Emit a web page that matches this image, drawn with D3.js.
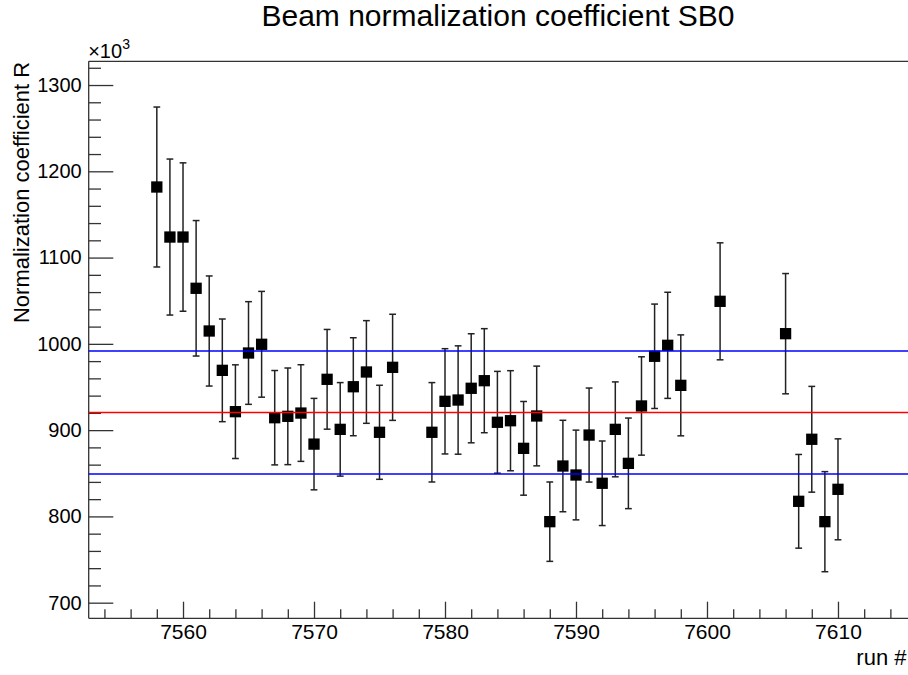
<!DOCTYPE html>
<html>
<head>
<meta charset="utf-8">
<script src="https://cdn.jsdelivr.net/npm/d3@7"></script>
<style>
  html, body { margin: 0; padding: 0; background: #ffffff; }
  svg { display: block; }
  text { font-family: "Liberation Sans", Arial, Helvetica, sans-serif; fill: #000; }
</style>
</head>
<body>
<div id="chart"></div>
<script>
// Run numbers
const runs = [7558, 7559, 7560, 7561, 7562, 7563, 7564, 7565, 7566, 7567,
              7568, 7569, 7570, 7571, 7572, 7573, 7574, 7575, 7576, 7579,
              7580, 7581, 7582, 7583, 7584, 7585, 7586, 7587, 7588, 7589,
              7590, 7591, 7592, 7593, 7594, 7595, 7596, 7597, 7598, 7601,
              7606, 7607, 7608, 7609, 7610];

// Normalization coefficient R (in units of 10^3)
const coeff = [1181.8, 1123.8, 1123.8, 1064.4, 1014.9, 969.3, 921.4, 989.4, 999.5, 914.4,
               916.0, 919.8, 883.8, 958.9, 900.9, 950.3, 967.4, 897.5, 972.8, 897.5,
               933.4, 934.9, 948.5, 957.3, 909.1, 910.9, 878.9, 916.4, 793.9, 858.4,
               848.0, 894.3, 838.4, 900.9, 861.5, 928.0, 985.6, 998.3, 951.9, 1049.3,
               1011.8, 817.5, 889.4, 793.9, 831.4];

// Symmetric errors on R (in units of 10^3)
const coeffErr = [92.7, 90.4, 86.0, 78.5, 63.8, 59.5, 54.3, 59.5, 61.3, 54.7,
                  56.0, 56.0, 53.0, 57.8, 54.2, 56.8, 59.5, 54.5, 61.5, 57.6,
                  61.0, 62.8, 63.2, 60.3, 59.0, 58.0, 54.3, 57.8, 46.0, 53.0,
                  52.0, 54.5, 49.0, 55.0, 52.5, 57.0, 60.5, 61.5, 58.5, 67.8,
                  69.7, 54.3, 61.3, 58.0, 58.5];

// Mean and +/- one sigma band
const meanValue = 920.4;
const sigmaValue = 71.3;

// Axis ticks
const xMajorTicks = [7560, 7570, 7580, 7590, 7600, 7610];
const xMinorTicks = [7554, 7556, 7558, 7562, 7564, 7566, 7568, 7572, 7574, 7576, 7578,
                     7582, 7584, 7586, 7588, 7592, 7594, 7596, 7598, 7602, 7604, 7606,
                     7608, 7612, 7614];
const yMajorTicks = [700, 800, 900, 1000, 1100, 1200, 1300];
const yMinorTicks = [720, 740, 760, 780, 820, 840, 860, 880, 920, 940, 960, 980,
                     1020, 1040, 1060, 1080, 1120, 1140, 1160, 1180, 1220, 1240,
                     1260, 1280, 1320];

const W = 908, H = 675;
const frame = { left: 88.7, right: 906.1, top: 61.3, bottom: 618.3 };

const svg = d3.select("#chart").append("svg")
  .attr("width", W).attr("height", H);

const x = d3.scaleLinear().domain([7552.8, 7615.2]).range([frame.left, frame.right]);
const y = d3.scaleLinear().domain([681.9, 1327.5]).range([frame.bottom, frame.top]);

const axisColor = "#333";

// Frame top edge
svg.append("line")
  .attr("x1", frame.left).attr("x2", W)
  .attr("y1", frame.top).attr("y2", frame.top)
  .attr("stroke", axisColor).attr("stroke-width", 1.3);

// X axis: major and minor ticks pointing into the frame
const gx = svg.append("g").attr("transform", `translate(0,${frame.bottom})`);
gx.call(d3.axisBottom(x).tickValues(xMinorTicks).tickFormat("")
  .tickSizeInner(-9).tickSizeOuter(0));
gx.call(g => g.select(".domain").remove());
const gxMaj = svg.append("g").attr("transform", `translate(0,${frame.bottom})`);
gxMaj.call(d3.axisBottom(x).tickValues(xMajorTicks).tickFormat(d3.format("d"))
  .tickSizeInner(-16.6).tickSizeOuter(0).tickPadding(6));
gxMaj.select(".domain").attr("d", `M${frame.left},0H${W}`);
[gx, gxMaj].forEach(g => {
  g.selectAll("line, path").attr("stroke", axisColor).attr("stroke-width", 1.3);
});
gxMaj.selectAll("text")
  .attr("font-size", 21).attr("fill", "#000")
  .style("font-family", "'Liberation Sans', Arial, Helvetica, sans-serif");

// Y axis: major and minor ticks pointing into the frame
const gy = svg.append("g").attr("transform", `translate(${frame.left},0)`);
gy.call(d3.axisLeft(y).tickValues(yMinorTicks).tickFormat("")
  .tickSizeInner(-12.3).tickSizeOuter(0));
gy.call(g => g.select(".domain").remove());
const gyMaj = svg.append("g").attr("transform", `translate(${frame.left},0)`);
gyMaj.call(d3.axisLeft(y).tickValues(yMajorTicks).tickFormat(d3.format("d"))
  .tickSizeInner(-24.6).tickSizeOuter(0).tickPadding(7));
gyMaj.select(".domain").attr("d", `M0,${frame.top}V${frame.bottom}`);
[gy, gyMaj].forEach(g => {
  g.selectAll("line, path").attr("stroke", axisColor).attr("stroke-width", 1.3);
});
gyMaj.selectAll("text")
  .attr("font-size", 20).attr("fill", "#000")
  .style("font-family", "'Liberation Sans', Arial, Helvetica, sans-serif");

// Exponent label on the y axis
const expo = svg.append("text")
  .attr("x", frame.left - 0.5).attr("y", 58.3)
  .style("font-size", "20px");
expo.append("tspan").text("\u00d710");
expo.append("tspan").style("font-size", "14px").attr("dy", -9.5).text("3");

// Title
svg.append("text")
  .attr("x", 498).attr("y", 26)
  .attr("text-anchor", "middle")
  .attr("font-size", 30)
  .text("Beam normalization coefficient SB0");

// Axis titles
svg.append("text")
  .attr("transform", `translate(29,${frame.top + 0.5}) rotate(-90)`)
  .attr("text-anchor", "end")
  .attr("font-size", 22)
  .text("Normalization coefficient R");

svg.append("text")
  .attr("x", 906.5).attr("y", 665)
  .attr("text-anchor", "end")
  .attr("font-size", 22)
  .text("run #");

// Data points with error bars
const points = runs.map((r, i) => ({ run: r, v: coeff[i], e: coeffErr[i] }));
const capHalf = 3.4;
const gPts = svg.append("g");

gPts.selectAll("line.err").data(points).join("line")
  .attr("class", "err")
  .attr("x1", d => x(d.run)).attr("x2", d => x(d.run))
  .attr("y1", d => y(d.v - d.e)).attr("y2", d => y(d.v + d.e))
  .attr("stroke", "#222").attr("stroke-width", 1.5);

gPts.selectAll("line.capHi").data(points).join("line")
  .attr("class", "capHi")
  .attr("x1", d => x(d.run) - capHalf).attr("x2", d => x(d.run) + capHalf)
  .attr("y1", d => y(d.v + d.e)).attr("y2", d => y(d.v + d.e))
  .attr("stroke", "#222").attr("stroke-width", 1.5);

gPts.selectAll("line.capLo").data(points).join("line")
  .attr("class", "capLo")
  .attr("x1", d => x(d.run) - capHalf).attr("x2", d => x(d.run) + capHalf)
  .attr("y1", d => y(d.v - d.e)).attr("y2", d => y(d.v - d.e))
  .attr("stroke", "#222").attr("stroke-width", 1.5);

const ms = 11.3;
gPts.selectAll("rect.marker").data(points).join("rect")
  .attr("class", "marker")
  .attr("x", d => x(d.run) - ms / 2).attr("y", d => y(d.v) - ms / 2)
  .attr("width", ms).attr("height", ms)
  .attr("fill", "#000");

// Mean and one sigma band lines
const bands = [
  { v: meanValue + sigmaValue, c: "#0000ff" },
  { v: meanValue, c: "#ff0000" },
  { v: meanValue - sigmaValue, c: "#0000ff" }
];
svg.append("g").selectAll("line").data(bands).join("line")
  .attr("x1", frame.left).attr("x2", W)
  .attr("y1", d => y(d.v)).attr("y2", d => y(d.v))
  .attr("stroke", d => d.c).attr("stroke-width", 1.5);
</script>
</body>
</html>
